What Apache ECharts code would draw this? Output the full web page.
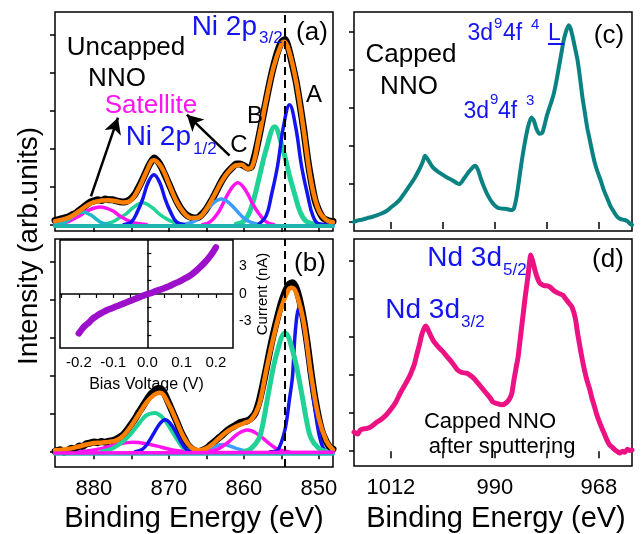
<!DOCTYPE html>
<html>
<head>
<meta charset="utf-8">
<script src="https://cdn.jsdelivr.net/npm/echarts@6.0.0/dist/echarts.min.js"></script>
<style>
  html, body { margin: 0; padding: 0; background: #fff; }
  #chart { width: 644px; height: 534px; }
</style>
</head>
<body>
<div id="chart"></div>
<script>
// ---- tick values ----
const niTicks = [850, 855, 860, 865, 870, 875, 880];
const niLabels = [850, 860, 870, 880];
const ndTicks = [968, 979, 990, 1001, 1012];
const ndLabels = [968, 990, 1012];
const intTicks = [0, 1, 2, 3, 4, 5];
const ivTicks = [-0.25, -0.2, -0.15, -0.1, -0.05, 0, 0.05, 0.1, 0.15, 0.2];
const ivLabels = [-0.2, -0.1, 0, 0.1, 0.2];
const curTicks = [-4.5, -3, -1.5, 0, 1.5, 3, 4.5];
const curLabels = [-3, 0, 3];

// ---- panel (a): uncapped NNO, Ni 2p  [binding energy eV, intensity] ----
const aData = [[885.2,0.12],[884.5,0.15],[884,0.18],[883.5,0.2],[883,0.26],[882.5,0.3],[882,0.38],[881.5,0.45],[881,0.53],[880.5,0.6],[880,0.63],[879.5,0.66],[879,0.64],[878.5,0.68],[878,0.66],[877.5,0.66],[877,0.63],[876.5,0.61],[876,0.6],[875.5,0.63],[875,0.7],[874.5,0.82],[874,1.0],[873.5,1.2],[873,1.42],[872.5,1.62],[872,1.76],[871.5,1.68],[871,1.52],[870.5,1.3],[870,1.08],[869.5,0.85],[869,0.64],[868.5,0.46],[868,0.33],[867.5,0.24],[867,0.2],[866.5,0.18],[866,0.21],[865.5,0.3],[865,0.42],[864.5,0.58],[864,0.76],[863.5,0.95],[863,1.14],[862.5,1.3],[862,1.42],[861.5,1.52],[861,1.6],[860.5,1.6],[860,1.56],[859.5,1.5],[859,1.52],[858.5,1.85],[858,2.3],[857.5,2.8],[857,3.3],[856.5,3.78],[856,4.2],[855.5,4.55],[855,4.8],[854.5,4.88],[854,4.62],[853.5,4.2],[853,3.75],[852.5,3.15],[852,2.5],[851.5,1.75],[851,1.15],[850.5,0.65],[850,0.38],[849.5,0.2],[849,0.13],[848.5,0.1],[848.1,0.09]];
const aFit = [[885.2,0.1],[884,0.15],[883,0.23],[882,0.36],[881,0.5],[880,0.6],[879,0.64],[878,0.65],[877,0.62],[876,0.59],[875,0.66],[874,0.97],[873,1.4],[872.3,1.68],[872,1.7],[871,1.52],[870,1.08],[869,0.62],[868,0.32],[867,0.18],[866,0.2],[865,0.42],[864,0.76],[863,1.13],[862,1.41],[861,1.57],[860.3,1.58],[859.5,1.48],[859,1.5],[858,2.3],[857,3.3],[856,4.18],[855,4.75],[854.6,4.82],[854,4.6],[853,3.75],[852,2.48],[851,1.12],[850,0.38],[849,0.13],[848.1,0.07]];
const aBlue32 = [[858,0.02],[857,0.25],[856.3,0.8],[855.5,1.55],[854.7,2.6],[853.9,3.16],[853.1,2.6],[852.3,1.55],[851.5,0.8],[850.8,0.25],[850,0.03],[848.1,0]];
const aBlue12 = [[876,0.01],[875,0.08],[874.2,0.35],[873.5,0.68],[872.8,1.1],[872,1.32],[871.2,1.1],[870.5,0.68],[869.8,0.35],[869,0.08],[868,0.01]];
const aGreen32 = [[861,0.02],[860,0.1],[859.2,0.35],[858.5,0.8],[857.9,1.29],[857,2.0],[855.9,2.58],[854.8,2.0],[853.9,1.29],[853.2,0.8],[852.5,0.35],[851.7,0.1],[850.5,0.02]];
const aGreen12 = [[879,0.01],[877.5,0.08],[876.5,0.2],[875.7,0.29],[874.8,0.45],[873.5,0.58],[872.2,0.45],[871.3,0.29],[870.5,0.18],[869.5,0.08],[868,0.01]];
const aSatC = [[865.5,0.01],[864.5,0.08],[863.5,0.3],[862.8,0.55],[861.8,0.92],[860.8,1.11],[859.8,0.92],[858.8,0.55],[858,0.3],[857,0.08],[856,0.01]];
const aSat12 = [[885.2,0.01],[883.5,0.08],[882.5,0.18],[881.9,0.24],[880.8,0.38],[879.2,0.47],[877.6,0.38],[876.6,0.24],[875.8,0.15],[874.8,0.06],[873,0.01]];
const aSkyC = [[868,0.01],[866.8,0.08],[866,0.18],[865.2,0.34],[864.2,0.55],[863,0.68],[861.8,0.55],[860.8,0.34],[860,0.18],[859.2,0.08],[858,0.01]];
const aSky12 = [[885.2,0.01],[884,0.06],[883.2,0.17],[882.5,0.27],[881.5,0.34],[880.5,0.27],[879.8,0.17],[879,0.06],[878,0.01]];
const aBase = [[885.2,-0.03],[848.1,-0.03]];

// ---- panel (b) ----
const bData = [[885.2,0.02],[884.5,0.06],[884,0.0],[883.5,0.05],[883,0.1],[882.5,0.08],[882,0.16],[881.5,0.15],[881,0.22],[880.5,0.24],[880,0.27],[879.5,0.25],[879,0.28],[878.5,0.26],[878,0.29],[877.5,0.3],[877,0.34],[876.5,0.4],[876,0.48],[875.5,0.6],[875,0.74],[874.5,0.88],[874,1.05],[873.5,1.2],[873,1.36],[872.5,1.5],[872,1.6],[871.5,1.67],[871,1.66],[870.5,1.5],[870,1.28],[869.5,1.05],[869,0.82],[868.5,0.58],[868,0.38],[867.5,0.2],[867,0.1],[866.5,0.04],[866,0.02],[865.5,0.05],[865,0.1],[864.5,0.18],[864,0.26],[863.5,0.35],[863,0.43],[862.5,0.52],[862,0.6],[861.5,0.66],[861,0.72],[860.5,0.78],[860,0.8],[859.5,0.83],[859,0.9],[858.5,1.02],[858,1.3],[857.5,1.72],[857,2.2],[856.5,2.7],[856,3.15],[855.5,3.55],[855,3.92],[854.5,4.2],[854,4.4],[853.5,4.45],[853,4.3],[852.5,3.95],[852,3.45],[851.5,2.8],[851,2.05],[850.5,1.4],[850,0.88],[849.5,0.5],[849,0.28],[848.5,0.12],[848.1,0.08]];
const bFit = [[885.2,0.05],[884,0.07],[883,0.1],[882,0.15],[881,0.2],[880,0.24],[879,0.25],[878,0.27],[877,0.31],[876,0.45],[875,0.7],[874,1.0],[873,1.3],[872,1.5],[871.2,1.56],[870,1.25],[869,0.82],[868,0.38],[867,0.12],[866,0.05],[865,0.1],[864,0.24],[863,0.42],[862,0.57],[861,0.68],[860,0.76],[859,0.86],[858,1.22],[857,2.16],[856,3.05],[855,3.8],[854,4.28],[853.6,4.32],[853,4.18],[852,3.4],[851,2.0],[850,0.9],[849,0.3],[848.1,0.06]];
const bBlue32 = [[856.5,0.01],[855.5,0.05],[854.5,0.6],[853.9,1.4],[853.5,2.0],[853.2,3.0],[852.9,3.6],[852.6,3.8],[852.3,3.6],[852,3.3],[851.5,2.6],[851,1.85],[850.5,1.1],[850,0.5],[849.5,0.15],[849,0.03],[848.1,0.0]];
const bBlue12 = [[874.5,0.01],[873.5,0.08],[872.8,0.24],[872,0.5],[871.2,0.75],[870.5,0.85],[869.8,0.75],[869,0.5],[868.3,0.24],[867.6,0.06],[866.5,0.01]];
const bGreen32 = [[860,0.02],[859,0.1],[858,0.35],[857.4,0.8],[856.7,1.57],[855.6,2.6],[854.5,3.13],[853.4,2.6],[852.3,1.57],[851.6,0.8],[851,0.35],[850,0.1],[849,0.02]];
const bGreen12 = [[879,0.02],[877.5,0.1],[876,0.3],[875,0.5],[874,0.75],[873,0.97],[871.9,1.03],[870.8,0.9],[869.8,0.62],[868.8,0.3],[868,0.1],[867,0.02]];
const bSatC = [[865,0.01],[863.5,0.08],[862.5,0.2],[861.9,0.29],[860.8,0.48],[859.5,0.58],[858.2,0.48],[857,0.29],[856.3,0.18],[855.5,0.08],[854,0.01]];
const bSat12 = [[882,0.01],[880,0.06],[878.3,0.13],[877,0.2],[874.8,0.26],[872.5,0.2],[871,0.13],[869.5,0.06],[867.5,0.01]];
const bSkyC = [[866,0.01],[864.5,0.1],[862.8,0.2],[861,0.1],[859.5,0.01]];
const bBase = [[885.2,-0.04],[848.1,-0.04]];
const bBaseSat = [[885.2,-0.02],[848.1,0.0]];

// ---- panel (c): capped NNO, Nd 3d ----
const cData = [[1019.8,0.0],[1019,0.04],[1018,0.06],[1017,0.1],[1016,0.13],[1015,0.17],[1014,0.22],[1013,0.28],[1012,0.38],[1011,0.48],[1010,0.6],[1009,0.78],[1008,0.96],[1007,1.15],[1006,1.38],[1005.2,1.6],[1004.8,1.74],[1004.2,1.65],[1003.5,1.5],[1003,1.42],[1002,1.32],[1001,1.24],[1000,1.16],[999,1.1],[998,1.02],[997.4,1.0],[996.5,1.15],[995.5,1.32],[994.5,1.46],[994.1,1.48],[993.5,1.35],[993,1.15],[992.3,0.92],[991.5,0.7],[990.5,0.5],[989.5,0.38],[988.5,0.35],[987.5,0.34],[986.5,0.31],[986,0.35],[985.5,0.6],[985,1.0],[984.5,1.45],[984,1.85],[983.5,2.2],[983,2.5],[982.3,2.75],[981.8,2.68],[981.2,2.45],[980.6,2.32],[980,2.34],[979.5,2.55],[979,2.8],[978.5,3.0],[978,3.18],[977.5,3.4],[977,3.7],[976.5,4.05],[976,4.4],[975.5,4.75],[975,5.0],[974.4,5.18],[974,5.1],[973.5,4.85],[973,4.55],[972.5,4.25],[972,3.8],[971.5,3.3],[971,2.9],[970.5,2.5],[970,2.2],[969.5,1.9],[969,1.62],[968.5,1.4],[968,1.22],[967.5,1.05],[967,0.85],[966.5,0.7],[966,0.55],[965.5,0.4],[965,0.3],[964.5,0.2],[964,0.12],[963.5,0.08],[963,0.06],[962.5,0.05],[962,0.02],[961.5,-0.04],[961,-0.08]];

// ---- panel (d): capped NNO after sputtering ----
const dData = [[1019.8,0.5],[1019,0.45],[1018.5,0.55],[1018,0.58],[1017,0.6],[1016,0.66],[1015,0.76],[1014,0.84],[1013,0.95],[1012,1.1],[1011,1.28],[1010,1.53],[1009,1.75],[1008,1.98],[1007.5,2.13],[1007,2.3],[1006.5,2.55],[1006,2.78],[1005.5,3.05],[1005,3.22],[1004.6,3.29],[1004,3.15],[1003.5,3.02],[1003,2.9],[1002.3,2.79],[1001.5,2.68],[1001,2.62],[1000,2.47],[999,2.32],[998,2.15],[997,2.07],[996,2.05],[995.3,2.0],[994.5,1.92],[994,1.85],[993,1.7],[992,1.55],[991,1.4],[990.4,1.29],[989.5,1.25],[988.5,1.22],[987.5,1.28],[986.8,1.4],[986.4,1.53],[986,1.85],[985.5,2.2],[985.1,2.47],[984.5,3.1],[984,3.62],[983.6,4.05],[983,4.6],[982.4,5.16],[982,5.0],[981.5,4.75],[981,4.55],[980.5,4.42],[980,4.38],[979.5,4.35],[979,4.35],[978.4,4.32],[977.5,4.22],[976.5,4.15],[975.6,4.1],[975,4.0],[974.5,3.92],[973.7,3.79],[973,3.5],[972.5,3.1],[972,2.74],[971.5,2.4],[971,2.1],[970.5,1.85],[969.9,1.61],[969.5,1.4],[969,1.2],[968.5,0.98],[967.8,0.74],[967,0.5],[966.5,0.35],[966,0.22],[965.7,0.16],[965,0.08],[964.5,0.02],[964,-0.02],[963.6,-0.05],[963,0.0],[962.5,-0.03],[962,0.05],[961.5,0.02],[961,0.03]];

// ---- inset: I-V curve [bias V, current nA] ----
const ivData = [[-0.2,-4.3],[-0.19,-3.8],[-0.18,-3.4],[-0.17,-3.1],[-0.16,-2.7],[-0.15,-2.45],[-0.14,-2.2],[-0.13,-2.0],[-0.12,-1.8],[-0.11,-1.65],[-0.1,-1.5],[-0.09,-1.35],[-0.08,-1.2],[-0.07,-1.05],[-0.06,-0.9],[-0.05,-0.75],[-0.04,-0.6],[-0.03,-0.45],[-0.02,-0.3],[-0.01,-0.15],[0,0.0],[0.01,0.1],[0.02,0.25],[0.03,0.4],[0.04,0.5],[0.05,0.65],[0.06,0.8],[0.07,0.95],[0.08,1.15],[0.09,1.3],[0.1,1.5],[0.11,1.7],[0.12,1.9],[0.13,2.15],[0.14,2.45],[0.15,2.8],[0.16,3.15],[0.17,3.55],[0.18,4.0],[0.19,4.5],[0.2,5.1]];

const FONT = 'Liberation Sans, Arial, sans-serif';
const C = {
  data: '#000000', fit: '#FF8000', blue: '#1414F0', green: '#20D296',
  mag: '#FF14F0', sky: '#3C9CFF', cyan: '#20B8C8', base: '#20B4B0',
  teal: '#0B8282', pink: '#EC1283', purple: '#9C10CC'
};

const chart = echarts.init(document.getElementById('chart'), null, { renderer: 'canvas' });

function line(data, color, width, idx, z, smooth) {
  return {
    type: 'line', xAxisIndex: idx, yAxisIndex: idx, data: data,
    showSymbol: false, symbol: 'none', smooth: smooth === undefined ? 0.4 : smooth,
    lineStyle: { color: color, width: width, cap: 'round', join: 'round' },
    z: z, silent: true, animation: false
  };
}

function xAx(idx, min, max, ticks, labels) {
  return {
    gridIndex: idx, type: 'value', inverse: true, min: min, max: max,
    axisLine: { show: false }, splitLine: { show: false },
    axisTick: { show: true, customValues: ticks, length: 7, lineStyle: { color: '#000', width: 1.5 } },
    axisLabel: labels ? { show: true, customValues: labels, color: '#000', fontSize: 22, fontFamily: FONT, margin: 11,
      formatter: v => String(v) } : { show: false }
  };
}
function yAx(idx, min, max) {
  return {
    gridIndex: idx, type: 'value', min: min, max: max,
    axisLine: { show: false }, splitLine: { show: false },
    axisTick: { show: true, customValues: intTicks, length: 5, lineStyle: { color: '#000', width: 1.5 } },
    axisLabel: { show: false }
  };
}
function frame(left, top, width, height, bg) {
  return { left: left, top: top, width: width, height: height, show: true,
    borderColor: '#000', borderWidth: 1.5, backgroundColor: bg || 'transparent', containLabel: false };
}
function txt(s, x, y, size, color, align) {
  return { type: 'text', x: x, y: y, z: 100, silent: true,
    style: { text: s, fontSize: size, fontFamily: FONT, fill: color || '#000',
      align: align || 'center', verticalAlign: 'middle' } };
}

const series = [];
// panel (a)
const aBlack = line(aData, C.data, 7, 0, 2, 0.2);
aBlack.markLine = {
  silent: true, symbol: ['none', 'arrow'], symbolSize: [13, 16], animation: false,
  label: { show: false }, lineStyle: { color: '#000', width: 2.5, type: 'solid' },
  data: [
    [{ coord: [880.4, 0.75] }, { coord: [876.8, 2.82] }],
    [{ coord: [861.9, 1.82] }, { coord: [867.6, 2.9] }]
  ]
};
series.push(aBlack);
series.push(line(aGreen32, C.green, 5, 0, 3));
series.push(line(aGreen12, C.green, 3.5, 0, 3));
series.push(line(aSatC, C.mag, 3.5, 0, 3));
series.push(line(aSat12, C.mag, 3.5, 0, 3));
series.push(line(aSkyC, C.sky, 3.5, 0, 3));
series.push(line(aSky12, C.cyan, 3.5, 0, 3));
series.push(line(aBlue32, C.blue, 3.5, 0, 3));
series.push(line(aBlue12, C.blue, 3.5, 0, 3));
series.push(line(aFit, C.fit, 4.5, 0, 4));
const aB = line(aBase, C.base, 4, 0, 5, false);
aB.markLine = {
  silent: true, symbol: 'none', animation: false, label: { show: false },
  lineStyle: { color: '#000', width: 2, type: [8, 5] }, data: [{ xAxis: 854.6 }]
};
series.push(aB);

// panel (b)
series.push(line(bData, C.data, 7, 1, 2, 0.2));
series.push(line(bSat12, C.mag, 3.5, 1, 3));
series.push(line(bSkyC, C.sky, 3.5, 1, 3));
series.push(line(bSatC, C.mag, 3.5, 1, 3));
series.push(line(bBlue32, C.blue, 3.5, 1, 3, 0.3));
series.push(line(bGreen32, C.green, 5, 1, 3));
series.push(line(bGreen12, C.green, 4, 1, 3));
series.push(line(bBlue12, C.blue, 3.5, 1, 3));
series.push(line(bFit, C.fit, 4.5, 1, 4));
series.push(line(bBase, C.base, 4, 1, 5, false));
const bB = line(bBaseSat, C.mag, 3.5, 1, 5, false);
bB.markLine = {
  silent: true, symbol: 'none', animation: false, label: { show: false },
  lineStyle: { color: '#000', width: 2, type: [8, 5] }, data: [{ xAxis: 854.6 }]
};
series.push(bB);

// panels (c), (d)
series.push(line(cData, C.teal, 4, 2, 3, 0.2));
series.push(line(dData, C.pink, 5, 3, 3, 0.2));

// inset
const iv = line(ivData, C.purple, 6.5, 4, 6, 0.3);
iv.markLine = {
  silent: true, symbol: 'none', animation: false, label: { show: false },
  lineStyle: { color: '#000', width: 1.5, type: 'solid' },
  data: [{ xAxis: 0 }, { yAxis: 0 }]
};
series.push(iv);

const graphics = [
  // (a)
  txt('Uncapped', 126, 48, 26),
  txt('NNO', 117, 79, 26),
  txt('Satellite', 151, 106, 26, C.mag),
  txt('Ni 2p', 191, 137, 28, C.blue, 'right'),
  txt('1/2', 193, 149, 17, C.blue, 'left'),
  txt('Ni 2p', 257, 27, 28, C.blue, 'right'),
  txt('3/2', 259, 38, 17, C.blue, 'left'),
  txt('(a)', 312, 33, 26),
  txt('A', 314, 95, 24),
  txt('B', 255, 116, 24),
  txt('C', 239, 145, 24),
  // (b)
  txt('(b)', 310, 264, 26),
  // (c)
  txt('Capped', 411, 55, 26),
  txt('NNO', 409, 87, 26),
  txt('3d', 493, 34, 23, C.blue, 'right'),
  txt('9', 494, 24, 15, C.blue, 'left'),
  txt('4f', 503, 34, 23, C.blue, 'left'),
  txt('4', 531, 25, 15, C.blue, 'left'),
  txt('L', 548, 34, 23, C.blue, 'left'),
  txt('3d', 489, 112, 23, C.blue, 'right'),
  txt('9', 490, 100, 15, C.blue, 'left'),
  txt('4f', 498, 112, 23, C.blue, 'left'),
  txt('3', 526, 101, 15, C.blue, 'left'),
  txt('(c)', 609, 36, 26),
  // (d)
  txt('Nd 3d', 502, 258, 28, C.blue, 'right'),
  txt('5/2', 503, 270, 17, C.blue, 'left'),
  txt('Nd 3d', 460, 310, 28, C.blue, 'right'),
  txt('3/2', 461, 322, 17, C.blue, 'left'),
  txt('(d)', 608, 260, 26),
  txt('Capped NNO', 490, 422, 22),
  txt('after sputtering', 502, 447, 22),
  // axis titles
  txt('Binding Energy (eV)', 194, 519, 29),
  txt('Binding Energy (eV)', 496, 519, 29),
  {
    type: 'text', x: 29, y: 246, rotation: Math.PI / 2, z: 100, silent: true,
    style: { text: 'Intensity (arb.units)', fontSize: 28, fontFamily: FONT, fill: '#000', align: 'center', verticalAlign: 'middle' }
  },
  // underline of L
  { type: 'line', z: 100, silent: true, shape: { x1: 548, y1: 44, x2: 564, y2: 44 }, style: { stroke: C.blue, lineWidth: 2 } }
];

const option = {
  backgroundColor: '#fff',
  animation: false,
  grid: [
    frame(55, 12, 278, 219),
    frame(55, 239, 278, 228),
    frame(354, 12, 278, 219),
    frame(354, 239, 278, 227),
    frame(60, 240, 173, 108, '#fff')
  ],
  xAxis: [
    xAx(0, 848.1, 885.2, niTicks, null),
    xAx(1, 848.1, 885.2, niTicks, niLabels),
    xAx(2, 961, 1019.8, ndTicks, null),
    xAx(3, 961, 1019.8, ndTicks, ndLabels),
    {
      gridIndex: 4, type: 'value', min: -0.255, max: 0.25,
      axisLine: { show: false }, splitLine: { show: false },
      axisTick: { show: true, customValues: ivTicks, length: 4, lineStyle: { color: '#000', width: 1.2 } },
      axisLabel: { show: true, customValues: ivLabels, color: '#000', fontSize: 15, fontFamily: FONT, margin: 7,
        formatter: v => v.toFixed(1) },
      name: 'Bias Voltage (V)', nameLocation: 'middle', nameGap: 29,
      nameTextStyle: { color: '#000', fontSize: 16, fontFamily: FONT }
    }
  ],
  yAxis: [
    yAx(0, -0.16, 5.6),
    yAx(1, -0.39, 5.6),
    yAx(2, -0.24, 5.53),
    yAx(3, -0.39, 5.58),
    {
      gridIndex: 4, type: 'value', position: 'right', min: -5.9, max: 5.9,
      axisLine: { show: false }, splitLine: { show: false },
      axisTick: { show: true, customValues: curTicks, length: 4, lineStyle: { color: '#000', width: 1.2 } },
      axisLabel: { show: true, customValues: curLabels, color: '#000', fontSize: 14, fontFamily: FONT, margin: 6 },
      name: 'Current (nA)', nameLocation: 'middle', nameGap: 22, nameRotate: 90,
      nameTextStyle: { color: '#000', fontSize: 15, fontFamily: FONT }
    }
  ],
  series: series,
  graphic: graphics
};

chart.setOption(option);
</script>
</body>
</html>
